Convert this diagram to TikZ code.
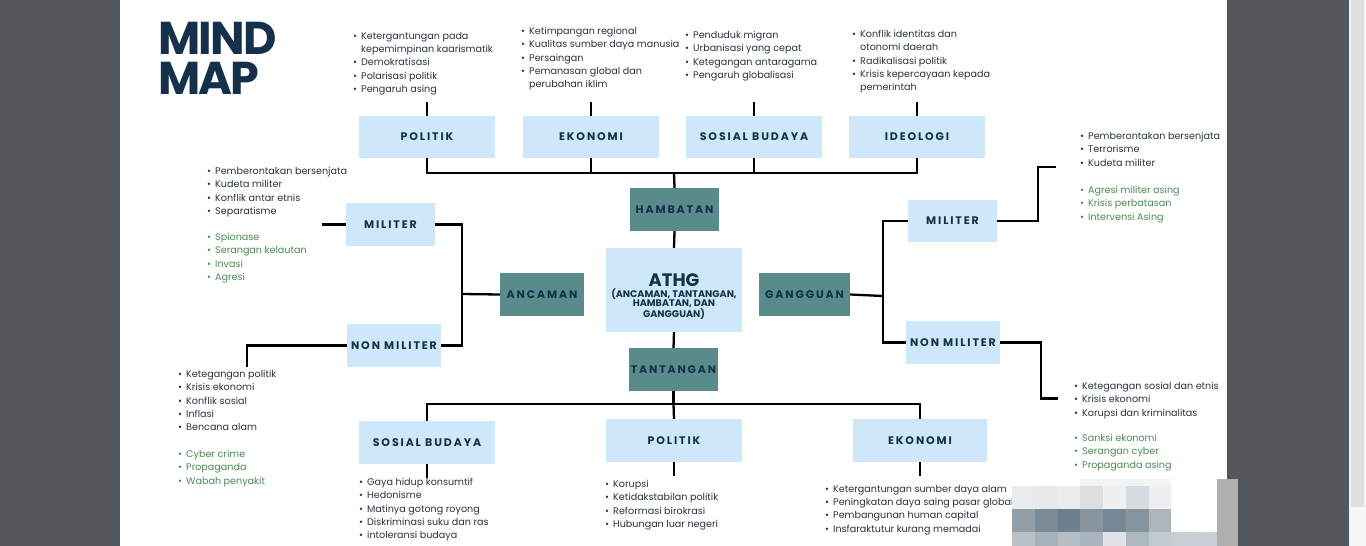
\documentclass[tikz,border=0pt]{standalone}
\usepackage{fontspec}
\usepackage{graphicx}
\setmainfont{Poppins}
\newfontfamily\labf[LetterSpace=17]{Poppins}
\newfontfamily\titf[LetterSpace=-4]{Poppins}
\definecolor{lblue}{HTML}{CFE8F9}
\definecolor{tealbox}{HTML}{5A8B8B}
\definecolor{navy}{HTML}{14304A}
\definecolor{slate}{HTML}{2B3440}
\definecolor{grn}{HTML}{4E8A55}
\definecolor{bgdark}{HTML}{53575A}
\definecolor{faint}{HTML}{F2F4F3}
\definecolor{barg}{HTML}{AFAFAF}
\newcommand{\li}[1]{\makebox[8pt][l]{•}#1}
\newcommand{\lc}[1]{\hspace*{8pt}#1}
\begin{document}
\begin{tikzpicture}[x=1pt,y=-1pt,
  conn/.style={line width=2.3pt, black, line join=miter},
  lbox/.style={fill=lblue, inner sep=0, text=navy, font=\labf\bfseries\fontsize{11}{12}\selectfont},
  tbox/.style={fill=tealbox, inner sep=0, text=navy, font=\labf\bfseries\fontsize{11}{12}\selectfont},
  lst/.style={anchor=north west, inner sep=0, align=left, text=slate, font=\fontsize{9.6}{13.3}\selectfont},
  gl/.style={lst, text=grn}]
\useasboundingbox (0,0) rectangle (1366,546);
% background
\fill[bgdark] (0,0) rectangle (1366,546);
\fill[white] (120,0) rectangle (1227,546);
\fill[white!90!gray] (1349,0) rectangle (1351,546);
\fill[white!94!gray] (1351,0) rectangle (1366,546);
\fill[white!76!gray] (1351,0) rectangle (1364,507);
% title
\node[anchor=north west, inner sep=0, align=left, text=navy, font=\titf\bfseries\fontsize{46}{40}\selectfont] (title) at (158,22) {MIND\\MAP};
% top boxes
\node[lbox, minimum width=136pt, minimum height=42pt] (p1) at (427,137) {POLITIK};
\node[lbox, minimum width=136pt, minimum height=42pt] (e1) at (591,137) {EKONOMI};
\node[lbox, minimum width=136pt, minimum height=42pt] (s1) at (754,137) {SOSIAL BUDAYA};
\node[lbox, minimum width=136pt, minimum height=42pt] (i1) at (917,137) {IDEOLOGI};
% center
\node[tbox, minimum width=89pt, minimum height=43pt] (ham) at (674.5,209.5) {HAMBATAN};
\node[fill=lblue, inner sep=0, minimum width=136pt, minimum height=84pt] (athg) at (674,290) {};
\node[text=navy, font=\bfseries\fontsize{18}{18}\selectfont, inner sep=0] (athgt) at (674,280) {ATHG};
\node[text=navy, font=\bfseries\fontsize{9.6}{9}\selectfont, inner sep=0, align=center, anchor=north] (athgs) at (674,289) {(ANCAMAN, TANTANGAN,\\HAMBATAN, DAN\\GANGGUAN)};
\node[tbox, minimum width=89pt, minimum height=43pt] (tan) at (673.5,369.5) {TANTANGAN};
\node[tbox, minimum width=84pt, minimum height=43pt] (anc) at (542,294.5) {ANCAMAN};
\node[tbox, minimum width=91pt, minimum height=43pt] (gan) at (804.5,294.5) {GANGGUAN};
% side boxes
\node[lbox, minimum width=89pt, minimum height=43pt] (m1) at (390.5,224.5) {MILITER};
\node[lbox, minimum width=94pt, minimum height=43pt] (n1) at (394,345.5) {NON MILITER};
\node[lbox, minimum width=89pt, minimum height=42pt] (m2) at (952.5,221) {MILITER};
\node[lbox, minimum width=94pt, minimum height=43pt] (n2) at (953,342.5) {NON MILITER};
% bottom boxes
\node[lbox, minimum width=136pt, minimum height=43pt] (sb2) at (427,442.5) {SOSIAL BUDAYA};
\node[lbox, minimum width=136pt, minimum height=43pt] (po2) at (674,440.5) {POLITIK};
\node[lbox, minimum width=134pt, minimum height=43pt] (ek2) at (920,440.5) {EKONOMI};
% coordinates
\coordinate (tb) at (674,173);
\coordinate (bb) at (673.5,404);
\coordinate (aj) at (462,294);
\coordinate (gj) at (883,296);
% connectors top
\draw[conn] (p1.south) |- (tb) -| (i1.south);
\draw[conn] (e1.south) -- (e1.south |- tb);
\draw[conn] (s1.south) -- (s1.south |- tb);
\draw[conn] (tb) -- (ham.north);
\draw[conn] (ham.south) -- (athg.north);
\draw[conn] (athg.south) -- (tan.north);
\draw[conn] (tan.south) -- (bb);
\draw[conn] (sb2.north) |- (bb) -| (ek2.north);
\draw[conn] (bb) -- (po2.north);
\draw[conn] (p1.north) -- ++(0,-14);
\draw[conn] (e1.north) -- ++(0,-14);
\draw[conn] (s1.north) -- ++(0,-14);
\draw[conn] (i1.north) -- ++(0,-14);
\draw[conn] (sb2.south) -- ++(0,14);
\draw[conn] (po2.south) -- ++(0,14);
\draw[conn] (ek2.south) -- ++(0,14);
% left
\draw[conn] (anc.west) -- (aj);
\draw[conn] (m1.east) -| (aj) |- (n1.east);
\draw[conn] (m1.west) -- ++(-24,0);
\draw[conn] (n1.west) -| ++(-100,21);
% right
\draw[conn] (gan.east) -- (gj);
\draw[conn] (m2.west) -| (gj) |- (n2.west);
\draw[conn] (m2.east) -| ++(41,-54) -- ++(18,0);
\draw[conn] (n2.east) -| ++(41,56) -- ++(17,0);
% top lists
\node[lst] (Lp) at (353,32) {\li{Ketergantungan pada}\\\lc{kepemimpinan kaarismatik}\\\li{Demokratisasi}\\\li{Polarisasi politik}\\\li{Pengaruh asing}};
\node[lst] (Le) at (521,27) {\li{Ketimpangan regional}\\\li{Kualitas sumber daya manusia}\\\li{Persaingan}\\\li{Pemanasan global dan}\\\lc{perubahan iklim}};
\node[lst] (Ls) at (685,31) {\li{Penduduk migran}\\\li{Urbanisasi yang cepat}\\\li{Ketegangan antaragama}\\\li{Pengaruh globalisasi}};
\node[lst] (Li) at (852,30) {\li{Konflik identitas dan}\\\lc{otonomi daerah}\\\li{Radikalisasi politik}\\\li{Krisis kepercayaan kepada}\\\lc{pemerintah}};
% left lists
\node[lst] (Lm1) at (207,167) {\li{Pemberontakan bersenjata}\\\li{Kudeta militer}\\\li{Konflik antar etnis}\\\li{Separatisme}};
\node[gl] (Gm1) at (207,233) {\li{Spionase}\\\li{Serangan kelautan}\\\li{Invasi}\\\li{Agresi}};
\node[lst] (Ln1) at (178,370) {\li{Ketegangan politik}\\\li{Krisis ekonomi}\\\li{Konflik sosial}\\\li{Inflasi}\\\li{Bencana alam}};
\node[gl] (Gn1) at (178,450) {\li{Cyber crime}\\\li{Propaganda}\\\li{Wabah penyakit}};
% right lists
\node[lst] (Lm2) at (1080,132) {\li{Pemberontakan bersenjata}\\\li{Terrorisme}\\\li{Kudeta militer}};
\node[gl] (Gm2) at (1080,186) {\li{Agresi militer asing}\\\li{Krisis perbatasan}\\\li{Intervensi Asing}};
\node[lst] (Ln2) at (1074,382) {\li{Ketegangan sosial dan etnis}\\\li{Krisis ekonomi}\\\li{Korupsi dan kriminalitas}};
\node[gl] (Gn2) at (1074,434) {\li{Sanksi ekonomi}\\\li{Serangan cyber}\\\li{Propaganda asing}};
% bottom lists
\node[lst] (Lsb) at (359,478) {\li{Gaya hidup konsumtif}\\\li{Hedonisme}\\\li{Matinya gotong royong}\\\li{Diskriminasi suku dan ras}\\\li{intoleransi budaya}};
\node[lst] (Lpo) at (605,480) {\li{Korupsi}\\\li{Ketidakstabilan politik}\\\li{Reformasi birokrasi}\\\li{Hubungan luar negeri}};
\node[lst] (Lek) at (825,485) {\li{Ketergantungan sumber daya alam}\\\li{Peningkatan daya saing pasar global}\\\li{Pembangunan human capital}\\\li{Insfaraktutur kurang memadai}};
% pixelated overlay
\fill[white] (1012,479) rectangle (1217,546);
\fill[faint] (1080.2,479) rectangle (1171.2,486);
\foreach \c [count=\i from 0] in {E9EBED,E8EAEC,EAECED,DBDFE2,EEF0F1,D7DCE0,ECEEF0}{
  \definecolor{pc}{HTML}{\c}
  \fill[pc] ({1012+22.75*\i},486) rectangle ({1012+22.75*(\i+1)},509);}
\foreach \c [count=\i from 0] in {939EA6,7A8B97,6E808D,8895A0,768896,8595A1,AEB6BC}{
  \definecolor{pc}{HTML}{\c}
  \fill[pc] ({1012+22.75*\i},509) rectangle ({1012+22.75*(\i+1)},532);}
\foreach \c [count=\i from 0] in {B9C1C7,A6B1B9,B6BFC5,A9B4BC,DFE3E6,ACB7BE,C2CACF,C9D0D5,C6CFD5}{
  \definecolor{pc}{HTML}{\c}
  \fill[pc] ({1012+22.75*\i},532) rectangle ({1012+22.75*(\i+1)},546);}
\fill[barg] (1217,479) rectangle (1238,546);
\end{tikzpicture}
\end{document}
